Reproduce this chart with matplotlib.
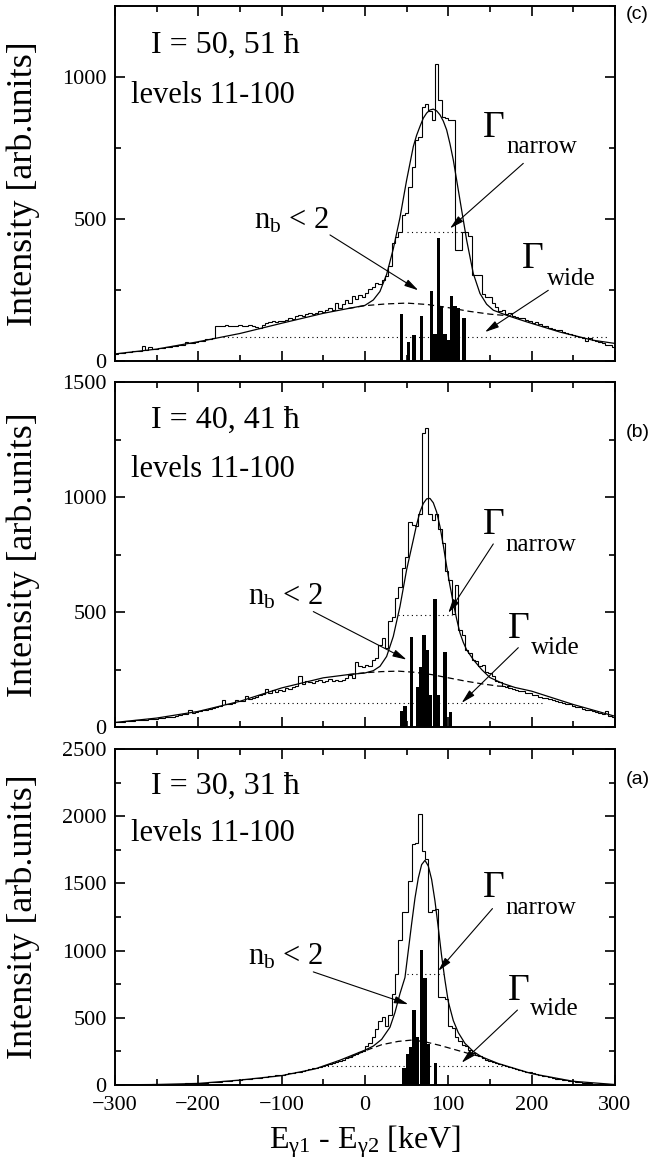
import numpy as np
import matplotlib.pyplot as plt
from matplotlib.ticker import MultipleLocator

plt.rcParams['font.family'] = ['Liberation Serif', 'DejaVu Serif']
plt.rcParams['mathtext.fontset'] = 'custom'
plt.rcParams['mathtext.rm'] = 'Liberation Serif'
plt.rcParams['mathtext.it'] = 'Liberation Serif:italic'

# 4 keV bins from -300 to 300 keV
bin_lo, bin_hi, bin_w = -300, 300, 4

# ---- panel (c): I = 50, 51 hbar ----
c_counts = [
    26, 27, 30, 33, 31, 35, 37, 36, 54, 40, 50, 41, 43, 45, 47,
    48, 50, 52, 53, 58, 56, 66, 62, 64, 66, 70, 72, 78, 76, 80,
    123, 125, 124, 126, 124, 125, 123, 127, 125, 124, 126, 124, 120, 118, 128,
    135, 138, 140, 137, 142, 140, 145, 150, 147, 160, 162, 158, 165, 168, 166,
    170, 175, 172, 180, 185, 178, 203, 188, 200, 215, 205, 230, 218, 232, 225,
    240, 252, 262, 273, 270, 285, 300, 335, 414, 437, 455, 514, 520, 614, 684,
    778, 790, 896, 905, 880, 849, 1045, 920, 861, 855, 850, 850, 390, 390, 455,
    455, 440, 302, 302, 302, 237, 226, 226, 205, 190, 175, 178, 165, 168, 160,
    155, 150, 152, 145, 140, 135, 138, 130, 122, 125, 118, 112, 110, 108, 102,
    100, 96, 92, 88, 85, 80, 70, 82, 74, 70, 66, 62, 58, 55, 50]
c_fit_x = [-300, -250, -200, -150, -100, -50, -20, 0, 10, 18, 26, 34, 42, 50, 58,
           62, 66, 70, 74, 78, 82, 86, 90, 94, 98, 102, 106,
           114, 122, 130, 138, 146, 154, 170, 194, 234, 274, 300]
c_fit_y = [25, 42, 68, 97, 133, 168, 185, 196, 215, 245, 305, 395, 505, 637, 755,
           795, 826, 855, 873, 884, 887, 881, 867, 845, 814, 765, 708,
           567, 426, 308, 238, 200, 179, 161, 138, 102, 73, 62]
c_wide_x = [-20, 0, 25, 50, 75, 100, 125, 150, 170]
c_wide_y = [185, 195, 201, 204, 199, 188, 175, 165, 160]
c_half_y = [453, 85]
c_half_lo = [50, -170]
c_half_hi = [122, 292]
c_bar_x = [44, 52, 59, 68, 80, 84, 88, 92, 96, 100, 104, 108, 112, 119]
c_bar_h = [167, 67, 90, 158, 246, 96, 432, 193, 96, 73, 228, 193, 185, 152]

# ---- panel (b): I = 40, 41 hbar ----
b_counts = [
    20, 22, 23, 25, 26, 27, 29, 30, 32, 31, 34, 36, 35, 38, 40,
    42, 45, 44, 48, 52, 55, 58, 75, 62, 65, 68, 72, 75, 80, 82,
    88, 92, 119, 98, 100, 105, 118, 112, 115, 133, 122, 128, 132, 138, 142,
    165, 150, 160, 152, 162, 158, 170, 165, 175, 178, 220, 185, 200, 195, 190,
    198, 205, 195, 200, 210, 202, 205, 198, 205, 215, 225, 215, 282, 265, 262,
    270, 265, 292, 300, 357, 387, 345, 460, 480, 560, 610, 690, 740, 890, 880,
    876, 927, 1277, 1298, 927, 900, 927, 860, 800, 680, 640, 490, 618, 420, 400,
    336, 320, 290, 285, 265, 270, 240, 236, 220, 199, 195, 180, 172, 168, 165,
    160, 158, 155, 150, 148, 140, 138, 132, 128, 125, 120, 118, 115, 110, 105,
    100, 98, 92, 88, 85, 80, 76, 74, 70, 66, 60, 55, 68, 50, 45]
b_fit_x = [-300, -250, -200, -150, -100, -50, -20, 0, 10, 18, 26, 34, 42, 50, 58,
           62, 66, 70, 74, 78, 82, 86, 90, 94, 98, 102, 106, 110, 114, 118,
           122, 130, 140, 150, 165, 180, 200, 250, 300]
b_fit_y = [20, 39, 68, 112, 170, 214, 228, 235, 245, 264, 307, 394, 524, 684, 814,
           880, 935, 972, 992, 994, 975, 935, 872, 790, 699, 615, 539, 470, 409, 368,
           336, 293, 250, 215, 190, 172, 156, 98, 47]
b_wide_x = [-20, 0, 20, 40, 60, 80, 100, 120, 140, 160, 175]
b_wide_y = [228, 236, 241, 243, 238, 228, 214, 200, 188, 178, 176]
b_half_y = [488, 105]
b_half_lo = [40, -135]
b_half_hi = [104, 215]
b_bar_x = [44, 48, 56, 63, 67, 71, 75, 79, 84, 88, 96, 103]
b_bar_h = [68, 90, 390, 174, 260, 398, 335, 141, 556, 141, 325, 67]

# ---- panel (a): I = 30, 31 hbar ----
a_counts = [
    1, 1, 2, 2, 2, 3, 3, 3, 4, 4, 4, 5, 5, 6, 6,
    7, 7, 8, 9, 10, 11, 12, 12, 14, 15, 16, 18, 19, 21, 23,
    25, 26, 28, 30, 32, 35, 37, 40, 42, 45, 48, 50, 52, 55, 58,
    62, 65, 68, 72, 74, 78, 82, 88, 92, 95, 100, 108, 112, 118, 125,
    130, 138, 145, 150, 158, 165, 172, 180, 190, 200, 210, 220, 232, 245, 255,
    290, 310, 360, 420, 480, 510, 440, 520, 680, 830, 1080, 1290, 1290, 1520, 1790,
    1800, 2020, 1745, 1680, 1290, 1300, 1310, 657, 657, 640, 440, 425, 360, 330, 300,
    290, 260, 240, 225, 215, 200, 190, 180, 172, 165, 155, 150, 140, 135, 128,
    122, 115, 108, 100, 95, 88, 82, 76, 70, 64, 58, 52, 47, 42, 38,
    34, 30, 27, 24, 21, 18, 15, 13, 11, 9, 7, 6, 5, 4, 3]
a_fit_x = [-300, -250, -200, -150, -100, -60, -30, 0, 10, 20, 30, 36, 42, 48, 52,
           56, 60, 64, 68, 72, 76, 80, 84, 88, 92, 96, 100,
           106, 112, 120, 130, 140, 160, 200, 250, 300]
a_fit_y = [2, 4, 12, 37, 70, 120, 185, 260, 290, 340, 430, 540, 680, 800, 1000,
           1200, 1390, 1540, 1640, 1672, 1630, 1530, 1370, 1170, 960, 780, 620,
           480, 390, 310, 250, 210, 160, 85, 28, 4]
a_wide_x = [-20, 0, 20, 40, 55, 70, 90, 110, 130, 140]
a_wide_y = [200, 255, 300, 325, 334, 325, 295, 260, 225, 212]
a_half_y = [824, 141]
a_half_lo = [50, -50]
a_half_hi = [94, 168]
a_bar_x = [47, 51, 55, 59, 63, 68, 72, 76, 85]
a_bar_h = [124, 231, 285, 557, 360, 1008, 793, 309, 166]

spin_labels = ['I = 50, 51 \u0127', 'I = 40, 41 \u0127', 'I = 30, 31 \u0127']
panel_tags = ['(c)', '(b)', '(a)']
y_max = [1250, 1500, 2500]

data = [
    (c_counts, c_fit_x, c_fit_y, c_wide_x, c_wide_y, c_half_y, c_half_lo, c_half_hi, c_bar_x, c_bar_h),
    (b_counts, b_fit_x, b_fit_y, b_wide_x, b_wide_y, b_half_y, b_half_lo, b_half_hi, b_bar_x, b_bar_h),
    (a_counts, a_fit_x, a_fit_y, a_wide_x, a_wide_y, a_half_y, a_half_lo, a_half_hi, a_bar_x, a_bar_h),
]

# layout: axes rectangles and annotation anchors (data coords)
rects = [(0.1758, 0.6885, 0.7645, 0.3063),
         (0.1758, 0.3727, 0.7645, 0.2977),
         (0.1758, 0.0638, 0.7645, 0.2899)]
tag_y = [0.975, 0.855, 0.91]
notes = [
    dict(gn=(142, 790), nar=(170, 731), gw=(188, 326), wid=(218, 267), nb=(-133, 467),
         a_nb=((-42, 444), (64, 249)), a_nar=((190, 696), (102, 467)), a_wid=((220, 249), (144, 102))),
    dict(gn=(141, 840), nar=(169, 767), gw=(171, 389), wid=(199, 316), nb=(-140, 532),
         a_nb=((-62, 502), (50, 293)), a_nar=((154, 796), (100, 496)), a_wid=((184, 345), (116, 105))),
    dict(gn=(141, 1400), nar=(168, 1276), gw=(171, 632), wid=(198, 520), nb=(-140, 900),
         a_nb=((-62, 842), (52, 601)), a_nar=((153, 1313), (88, 849)), a_wid=((183, 558), (116, 166))),
]

fig = plt.figure(figsize=(6.54, 11.59), dpi=100)
edges = np.arange(bin_lo, bin_hi + 1, bin_w)
arrow = dict(arrowstyle='-|>,head_length=0.7,head_width=0.18', color='k', lw=0.8,
             mutation_scale=12, shrinkA=0, shrinkB=0)

for i, (counts, fx, fy, wx, wy, hy, hlo, hhi, bx, bh) in enumerate(data):
    ax = fig.add_axes(rects[i])
    ax.stairs(counts, edges, color='k', lw=0.8, baseline=None)
    ax.plot(fx, fy, color='k', lw=0.9)
    ax.plot(wx, wy, color='k', lw=0.9, ls=(0, (5, 3)))
    ax.hlines(hy, hlo, hhi, colors='k', lw=0.8, linestyles=(0, (1, 3)))
    ax.bar(bx, bh, width=4, color='k', lw=0, zorder=3)

    ax.set_xlim(-300, 300)
    ax.set_ylim(0, y_max[i])
    ax.xaxis.set_major_locator(MultipleLocator(100))
    ax.xaxis.set_minor_locator(MultipleLocator(50))
    ax.yaxis.set_major_locator(MultipleLocator(500))
    ax.yaxis.set_minor_locator(MultipleLocator(250))
    ax.tick_params(which='both', direction='in', top=True, right=True, width=1.2,
                   labelsize=16, labelfontfamily='Liberation Serif')
    ax.tick_params(axis='y', pad=6)
    ax.tick_params(axis='x', pad=8)
    ax.tick_params(which='major', length=7)
    ax.tick_params(which='minor', length=4)
    for s in ax.spines.values():
        s.set_linewidth(1.4)
    if i < 2:
        ax.tick_params(labelbottom=False)
    ax.set_ylabel('Intensity [arb.units]', fontsize=26)
    ax.yaxis.set_label_coords(-0.15, 0.5)

    ax.text(0.073, 0.867, spin_labels[i], transform=ax.transAxes, fontsize=23)
    ax.text(0.033, 0.726, 'levels 11-100', transform=ax.transAxes, fontsize=22)
    ax.text(1.045, tag_y[i], panel_tags[i], transform=ax.transAxes, fontsize=14,
            family='Liberation Sans', ha='center', va='center')

    n = notes[i]
    ax.text(*n['gn'], '\u0393', fontsize=27)
    ax.text(*n['nar'], 'narrow', fontsize=18)
    ax.text(*n['gw'], '\u0393', fontsize=27)
    ax.text(*n['wid'], 'wide', fontsize=18)
    ax.text(*n['nb'], r'n$_\mathrm{b}$ < 2', fontsize=22)
    for key in ('a_nb', 'a_nar', 'a_wid'):
        start, end = n[key]
        ax.annotate('', xy=end, xytext=start, arrowprops=arrow)

    if i == 2:
        ax.set_xlabel(r'E$_{\mathrm{\gamma 1}}$ - E$_{\mathrm{\gamma 2}}$ [keV]', fontsize=23)
        ax.xaxis.set_label_coords(0.5, -0.115)

fig.savefig('out.png', dpi=100)
